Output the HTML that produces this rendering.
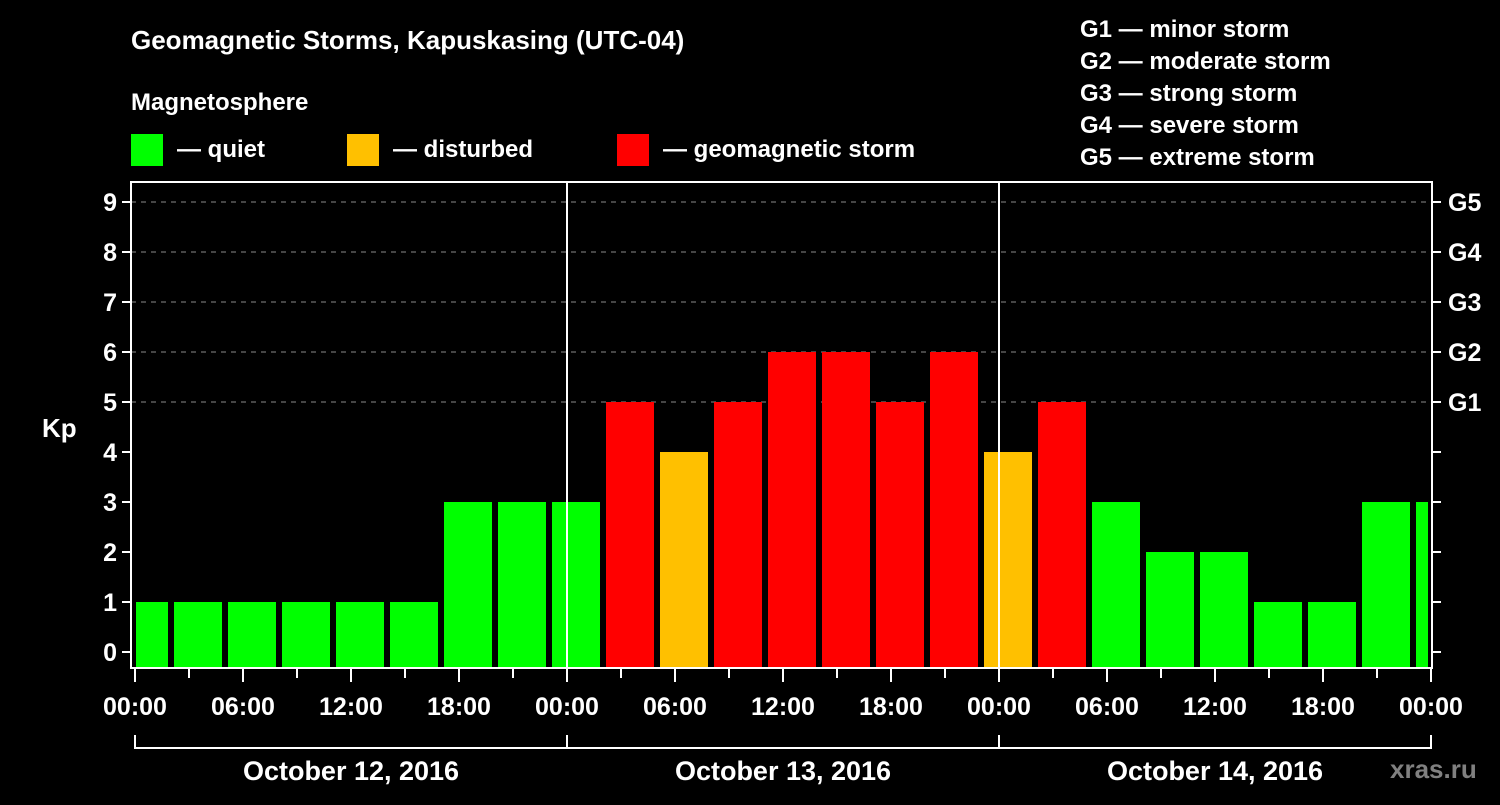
<!DOCTYPE html>
<html><head><meta charset="utf-8"><style>
body{margin:0;background:#000;}
svg text{font-family:"Liberation Sans",Arial,sans-serif;font-weight:bold;fill:#fff;}
</style></head><body>
<svg width="1500" height="800" viewBox="0 0 1500 800">
<rect width="1500" height="800" fill="#000"/>
<text x="131" y="49" font-size="26">Geomagnetic Storms, Kapuskasing (UTC-04)</text>
<text x="131" y="110" font-size="24">Magnetosphere</text>
<g><rect x="131" y="134" width="32" height="32" fill="#00ff00"/><text x="177" y="157" font-size="24">— quiet</text></g>
<g><rect x="347" y="134" width="32" height="32" fill="#ffc000"/><text x="393" y="157" font-size="24">— disturbed</text></g>
<g><rect x="617" y="134" width="32" height="32" fill="#ff0000"/><text x="663" y="157" font-size="24">— geomagnetic storm</text></g>
<g font-size="24">
<text x="1080" y="37">G1 — minor storm</text>
<text x="1080" y="69">G2 — moderate storm</text>
<text x="1080" y="101">G3 — strong storm</text>
<text x="1080" y="133">G4 — severe storm</text>
<text x="1080" y="165">G5 — extreme storm</text>
</g>
<text x="42" y="437" font-size="26">Kp</text>
<text x="1390" y="778" font-size="26" style="fill:#808080">xras.ru</text>
<g id="grid"></g>
<g id="bars"></g>
<g id="axes"></g>
</svg>
<script>
const kpValues=[1,1,1,1,1,1,3,3,3,5,4,5,6,6,5,6,4,5,3,2,2,1,1,3,3];
const timeLabels=["00:00","06:00","12:00","18:00","00:00","06:00","12:00","18:00","00:00","06:00","12:00","18:00","00:00"];
const dateLabels=["October 12, 2016","October 13, 2016","October 14, 2016"];
const gLabels=["G1","G2","G3","G4","G5"];
const NS="http://www.w3.org/2000/svg";
const X0=135,PXH=18,L=131,R=1432,T=182,B=668;
const xH=h=>X0+h*PXH;
const yK=k=>652-k*50;
function mk(tag,attrs,parent){const e=document.createElementNS(NS,tag);for(const k in attrs)e.setAttribute(k,attrs[k]);parent.appendChild(e);return e;}
const grid=document.getElementById('grid'),bars=document.getElementById('bars'),axes=document.getElementById('axes');
for(let k=5;k<=9;k++){
 const l=mk('line',{x1:L,x2:R,y1:yK(k),y2:yK(k),stroke:'#8a8a8a','stroke-width':1,'stroke-dasharray':'5,5'},grid);
 
 
}
kpValues.forEach((v,i)=>{
 const c=xH(0.5+3*i);
 let x1=Math.max(c-24,L+5),x2=Math.min(c+24,R-4);
 const col=v>=5?'#ff0000':(v>=4?'#ffc000':'#00ff00');
 const r=mk('rect',{x:x1,y:yK(v),width:x2-x1,height:B-1-yK(v),fill:col},bars);
 
 
});
// day separators
[24,48].forEach(h=>{const l=mk('line',{x1:xH(h),x2:xH(h),y1:T,y2:B,stroke:'#fff','stroke-width':2},axes);
 
 });
const frame=mk('rect',{x:L,y:T,width:R-L,height:B-T,fill:'none',stroke:'#fff','stroke-width':2},axes);


for(let k=0;k<=9;k++){
 mk('line',{x1:L-9,x2:L,y1:yK(k),y2:yK(k),stroke:'#fff','stroke-width':2},axes);
 mk('line',{x1:R,x2:R+9,y1:yK(k),y2:yK(k),stroke:'#fff','stroke-width':2},axes);
 const t=mk('text',{x:L-14,y:yK(k)+9,'font-size':25,'text-anchor':'end'},axes);t.textContent=k;
 
 
}
gLabels.forEach((g,i)=>{const t=mk('text',{x:R+16,y:yK(5+i)+9,'font-size':25},axes);t.textContent=g;
 
 });
for(let h=0;h<=72;h+=3){
 const len=(h%6===0)?14:10;
 mk('line',{x1:xH(h),x2:xH(h),y1:B,y2:B+len,stroke:'#fff','stroke-width':2},axes);
}
timeLabels.forEach((s,i)=>{const t=mk('text',{x:xH(i*6),y:715,'font-size':25,'text-anchor':'middle'},axes);t.textContent=s;
 
 });
mk('path',{d:`M${xH(0)},735 V748 H${xH(72)} V735 M${xH(24)},735 V748 M${xH(48)},735 V748`,stroke:'#fff','stroke-width':2,fill:'none'},axes);
dateLabels.forEach((s,i)=>{const t=mk('text',{x:xH(i*24+12),y:780,'font-size':27,'text-anchor':'middle'},axes);t.textContent=s;
 
 });
</script>
</body></html>
